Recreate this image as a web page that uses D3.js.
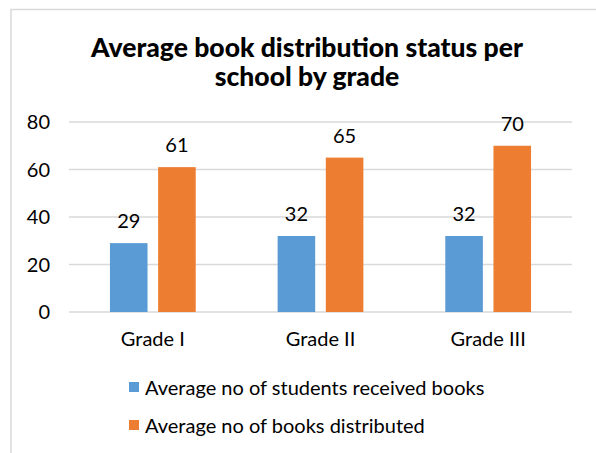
<!DOCTYPE html>
<html lang="en">
<head>
    <meta charset="UTF-8">
    <title>Average book distribution status per school by grade</title>
    <script src="https://cdn.jsdelivr.net/npm/d3@7/dist/d3.min.js"></script>
    <style>
        body {
            margin: 0;
            background: #fff;
        }
        svg {
            font-family: Lato, "Open Sans", sans-serif;
        }
    </style>
</head>
<body>
<div id="chart"></div>

<script>
    // chart data
    const grades = ["Grade I", "Grade II", "Grade III"];
    const seriesNames = ["Average no of students received books", "Average no of books distributed"];
    const studentsReceived = [29, 32, 32];
    const booksDistributed = [61, 65, 70];
    const yTicks = [0, 20, 40, 60, 80];
    const colors = ["#5B9BD5", "#ED7D31"];

    const width = 596;
    const height = 453;
    const margin = {top: 122, right: 24, bottom: 141, left: 69};

    const svg = d3.select("#chart")
        .append("svg")
        .attr("width", width)
        .attr("height", height);

    // outer chart border (runs off right/bottom edges)
    svg.append("rect")
        .attr("x", 11)
        .attr("y", 9.5)
        .attr("width", width)
        .attr("height", height)
        .attr("fill", "none")
        .attr("stroke", "#D9D9D9")
        .attr("stroke-width", 1.5);

    // title
    const title = svg.append("text")
        .attr("text-anchor", "middle")
        .attr("font-size", 26.5)
        .attr("font-weight", 900)
        .attr("fill", "#000");
    title.append("tspan").attr("x", 307).attr("y", 57).text("Average book distribution status per");
    title.append("tspan").attr("x", 307).attr("y", 86).text("school by grade");

    const x0 = d3.scaleBand()
        .domain(grades)
        .range([margin.left, width - margin.right])
        .padding(0);

    const x1 = d3.scaleBand()
        .domain(d3.range(seriesNames.length))
        .range([0, x0.bandwidth()])
        .paddingInner(0.22)
        .paddingOuter(0.85);

    const y = d3.scaleLinear()
        .domain([0, 80])
        .range([height - margin.bottom, margin.top]);

    // gridlines
    svg.append("g")
        .selectAll("line")
        .data(yTicks)
        .enter().append("line")
        .attr("x1", margin.left)
        .attr("x2", width - margin.right)
        .attr("y1", d => y(d))
        .attr("y2", d => y(d))
        .attr("stroke", "#D9D9D9")
        .attr("stroke-width", 1.5);

    // y axis labels
    svg.append("g")
        .selectAll("text")
        .data(yTicks)
        .enter().append("text")
        .attr("x", 50)
        .attr("y", d => y(d))
        .attr("dy", "0.35em")
        .attr("text-anchor", "end")
        .attr("font-size", 20)
        .attr("fill", "#000")
        .text(d => d);

    const rows = grades.map((g, i) => ({grade: g, values: [studentsReceived[i], booksDistributed[i]]}));

    const groups = svg.append("g")
        .selectAll("g")
        .data(rows)
        .enter().append("g")
        .attr("transform", d => `translate(${x0(d.grade)},0)`);

    groups.selectAll("rect")
        .data(d => d.values.map((v, i) => ({s: i, v: v})))
        .enter().append("rect")
        .attr("x", d => x1(d.s))
        .attr("width", x1.bandwidth())
        .attr("y", d => y(d.v))
        .attr("height", d => y(0) - y(d.v))
        .attr("fill", d => colors[d.s]);

    // value labels
    groups.selectAll("text")
        .data(d => d.values.map((v, i) => ({s: i, v: v})))
        .enter().append("text")
        .attr("x", d => x1(d.s) + x1.bandwidth() / 2)
        .attr("y", d => y(d.v) - 15)
        .attr("text-anchor", "middle")
        .attr("font-size", 20)
        .attr("fill", "#000")
        .text(d => d.v);

    // category labels
    svg.append("g")
        .selectAll("text")
        .data(grades)
        .enter().append("text")
        .attr("x", d => x0(d) + x0.bandwidth() / 2)
        .attr("y", 346)
        .attr("text-anchor", "middle")
        .attr("font-size", 20)
        .attr("fill", "#000")
        .text(d => d);

    // legend
    const legend = svg.append("g")
        .selectAll("g")
        .data(seriesNames)
        .enter().append("g")
        .attr("transform", (d, i) => `translate(129,${395 + i * 38})`);

    legend.append("rect")
        .attr("x", 0)
        .attr("y", -13)
        .attr("width", 10)
        .attr("height", 10)
        .attr("fill", (d, i) => colors[i]);

    legend.append("text")
        .attr("x", 16)
        .attr("y", 0)
        .attr("font-size", 20)
        .attr("fill", "#000")
        .text(d => d);
</script>
</body>
</html>
